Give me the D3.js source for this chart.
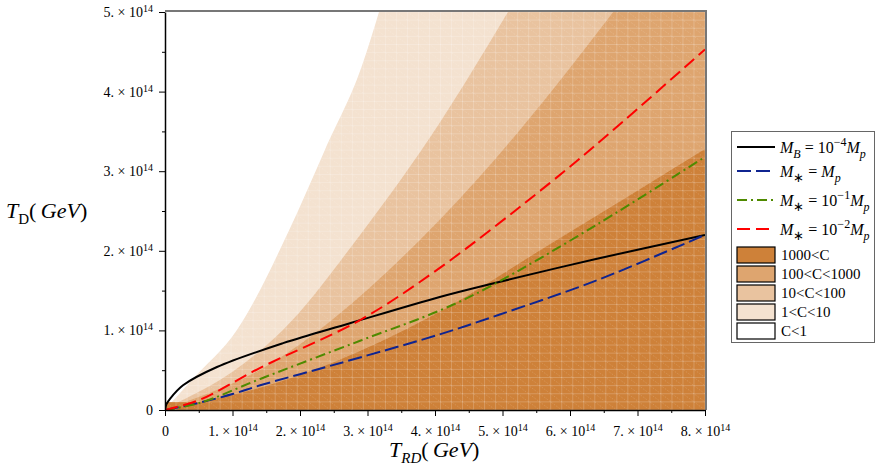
<!DOCTYPE html>
<html>
<head>
<meta charset="utf-8">
<script src="https://cdn.jsdelivr.net/npm/d3@7"></script>
<style>
  body { margin: 0; background: #fff; }
  svg { font-family: "Liberation Serif", "Times New Roman", serif; }
</style>
</head>
<body>
<svg id="chart" width="876" height="466"></svg>
<script>
// axis ticks, in units of 1e14 GeV
var xTicks = [0, 1, 2, 3, 4, 5, 6, 7, 8];
var yTicks = [0, 1, 2, 3, 4, 5];
var xMinor = [0.5, 1.5, 2.5, 3.5, 4.5, 5.5, 6.5, 7.5];
var yMinor = [0.5, 1.5, 2.5, 3.5, 4.5];

// region boundaries: [T_RD, T_D] (1e14 GeV)
var boundC1    = [[0.1, 0.1], [0.40, 0.38], [1.07, 1.01], [1.84, 2.26], [2.37, 3.27], [2.92, 4.33], [3.17, 5.0]];
var boundC10   = [[0.2, 0.1], [1.0, 0.48], [1.74, 1.0], [2.89, 2.2], [4.07, 3.61], [5.08, 5.0]];
var boundC100  = [[0.3, 0.1], [1.5, 0.55], [2.5, 1.15], [3.78, 2.14], [4.07, 2.39], [5.26, 3.52], [6.64, 5.0]];
var boundC1000 = [[0.5, 0.1], [1.5, 0.3], [2.5, 0.6], [3.93, 1.17], [5.66, 2.06], [8.0, 3.28]];
var stripTop = 0.1;   // dark strip along the bottom

// curves
var lineMB = [[0, 0], [0.02, 0.07], [0.074, 0.14], [0.267, 0.31], [0.77, 0.54], [1.75, 0.84], [2.74, 1.09], [4.07, 1.42], [4.81, 1.58], [6.4, 1.9], [8.0, 2.2]];
var lineMp = [[0, 0], [0.5, 0.09], [1.0, 0.2], [1.41, 0.31], [2.0, 0.45], [2.89, 0.66], [4.07, 0.95], [4.96, 1.2], [6.4, 1.63], [8.0, 2.2]];
var lineM1 = [[0, 0], [0.52, 0.09], [1.41, 0.39], [2.89, 0.87], [4.07, 1.25], [4.81, 1.55], [6.4, 2.33], [8.0, 3.18]];
var lineM2 = [[0, 0], [0.52, 0.13], [1.41, 0.53], [2.89, 1.13], [4.03, 1.76], [5.70, 2.85], [6.59, 3.48], [8.0, 4.53]];

var regionColors = ["#f4e2d0", "#e9c39f", "#dea56f", "#ce8139"];
var regionLabels = ["1000<C", "100<C<1000", "10<C<100", "1<C<10", "C<1"];
var legendFill = ["#ce8139", "#dea56f", "#e9c39f", "#f4e2d0", "#ffffff"];

var svg = d3.select("#chart");
var x = d3.scaleLinear().domain([0, 8]).range([165, 705]);
var y = d3.scaleLinear().domain([0, 5]).range([410, 12]);

svg.append("clipPath").attr("id", "plotclip")
  .append("rect").attr("x", x(0)).attr("y", y(5)).attr("width", x(8) - x(0)).attr("height", y(0) - y(5));

var plot = svg.append("g").attr("clip-path", "url(#plotclip)");

var curve = d3.line().x(function(d){ return x(d[0]); }).y(function(d){ return y(d[1]); }).curve(d3.curveMonotoneX);

function region(b){
    var last = b[b.length - 1];
    var p = curve(b);
    if (last[1] >= 5) p += "L" + x(8) + "," + y(5);
    p += "L" + x(8) + "," + y(0) + "L" + x(0) + "," + y(0) + "L" + x(b[0][0]) + "," + y(0) + "Z";
    return p;
}

[boundC1, boundC10, boundC100, boundC1000].forEach(function(b, i){
    plot.append("path").attr("d", region(b)).attr("fill", regionColors[i]);
});
plot.append("rect")
    .attr("x", x(0)).attr("y", y(stripTop))
    .attr("width", x(8) - x(0)).attr("height", y(0) - y(stripTop))
    .attr("fill", regionColors[3]);

// mesh lines of the filled area
var mesh = plot.append("g");
var nCell = 49;
for (var i = 0; i <= nCell; i++) {
    var xv = x(8 * i / nCell), yv = y(5 * i / nCell);
    mesh.append("line").attr("x1", xv).attr("x2", xv).attr("y1", y(0)).attr("y2", y(5))
        .attr("stroke", "#fff").attr("stroke-opacity", 0.2).attr("stroke-width", 1);
    mesh.append("line").attr("x1", x(0)).attr("x2", x(8)).attr("y1", yv).attr("y2", yv)
        .attr("stroke", "#fff").attr("stroke-opacity", 0.2).attr("stroke-width", 1);
}
for (var k = -nCell; k <= nCell; k++) {
    // diagonals from top-left to bottom-right of each cell
    var a0 = Math.max(0, k), a1 = Math.min(nCell, nCell + k);
    mesh.append("line")
        .attr("x1", x(8 * a0 / nCell)).attr("y1", y(5 * (nCell - (a0 - k)) / nCell))
        .attr("x2", x(8 * a1 / nCell)).attr("y2", y(5 * (nCell - (a1 - k)) / nCell))
        .attr("stroke", "#fff").attr("stroke-opacity", 0.18).attr("stroke-width", 0.8)
        .attr("stroke-dasharray", "1.5,1.5");
}

// curves
var lines = [
  {data: lineMB, color: "#000000", dash: null, w: 2},
  {data: lineMp, color: "#0f2490", dash: "14,5", w: 2},
  {data: lineM1, color: "#4f8a00", dash: "10,4,2,4", w: 2},
  {data: lineM2, color: "#ff0000", dash: "13,6", w: 2}
];
var smooth = d3.line().x(function(d){ return x(d[0]); }).y(function(d){ return y(d[1]); }).curve(d3.curveCatmullRom.alpha(0.5));
lines.forEach(function(l){
    plot.append("path").attr("d", smooth(l.data)).attr("fill", "none")
        .attr("stroke", l.color).attr("stroke-width", l.w)
        .attr("stroke-dasharray", l.dash);
});

// frame top/right
svg.append("path")
  .attr("d", "M" + x(0) + "," + (y(5) - 1) + "H" + (x(8) + 1) + "V" + y(0))
  .attr("fill", "none").attr("stroke", "#777").attr("stroke-width", 2);

// axes
function sci(sel){
    sel.selectAll(".tick text").each(function(d){
        var t = d3.select(this);
        t.text(null);
        if (d === 0) { t.text("0"); return; }
        t.append("tspan").text(d + ". \u00d7 10");
        t.append("tspan").text("14").attr("font-size", 10).attr("dy", -5);
    });
}
var gx = svg.append("g").attr("transform", "translate(0," + y(0) + ")")
    .call(d3.axisBottom(x).tickValues(xTicks).tickSize(6).tickSizeOuter(0).tickPadding(10));
gx.call(sci);
svg.append("g").attr("transform", "translate(0," + y(0) + ")")
    .call(d3.axisBottom(x).tickValues(xMinor).tickSize(3).tickFormat(""))
    .select(".domain").remove();

var gy = svg.append("g").attr("transform", "translate(" + x(0) + ",0)")
    .call(d3.axisLeft(y).tickValues(yTicks).tickSize(6).tickSizeOuter(0).tickPadding(6));
gy.call(sci);
svg.selectAll(".tick text").attr("font-family", "Liberation Serif").attr("font-size", 14).attr("fill", "#000");
svg.append("g").attr("transform", "translate(" + x(0) + ",0)")
    .call(d3.axisLeft(y).tickValues(yMinor).tickSize(3).tickFormat(""))
    .select(".domain").remove();

svg.selectAll(".domain").attr("stroke", "#000").attr("stroke-width", 1.5);
svg.selectAll(".tick line").attr("stroke", "#000");

// axis titles
var xt = svg.append("text").attr("x", 389).attr("y", 457).attr("font-size", 22);
xt.append("tspan").text("T").attr("font-style", "italic");
xt.append("tspan").text("RD").attr("font-style", "italic").attr("font-size", 15).attr("dy", 6);
xt.append("tspan").text("(").attr("dy", -6);
xt.append("tspan").text("\u2009GeV").attr("font-style", "italic");
xt.append("tspan").text(")");

var yt = svg.append("text").attr("x", 6).attr("y", 218).attr("font-size", 22);
yt.append("tspan").text("T").attr("font-style", "italic");
yt.append("tspan").text("D").attr("font-size", 15).attr("dy", 6);
yt.append("tspan").text("(").attr("dy", -6);
yt.append("tspan").text("\u2009GeV").attr("font-style", "italic");
yt.append("tspan").text(")");

// legend
var lg = svg.append("g");
lg.append("rect").attr("x", 731.5).attr("y", 131.5).attr("width", 143).attr("height", 211)
  .attr("fill", "#fff").attr("stroke", "#666").attr("stroke-width", 1);

var legendLines = [
  {sub: "B", exp: "\u22124"},
  {sub: "*", exp: null},
  {sub: "*", exp: "\u22121"},
  {sub: "*", exp: "\u22122"}
];
var rowY = [147, 171, 200, 229];
legendLines.forEach(function(e, i){
    var l = lines[i];
    lg.append("line").attr("x1", 737).attr("x2", 775).attr("y1", rowY[i]).attr("y2", rowY[i])
      .attr("stroke", l.color).attr("stroke-width", 2).attr("stroke-dasharray", l.dash);
    var t = lg.append("text").attr("x", 780).attr("y", rowY[i] + 6).attr("font-size", 16);
    t.append("tspan").text("M").attr("font-style", "italic");
    if (e.sub === "*") t.append("tspan").text("\u2217").attr("font-size", 13).attr("dy", 5);
    else t.append("tspan").text(e.sub).attr("font-style", "italic").attr("font-size", 12).attr("dy", 5);
    t.append("tspan").text(" = ").attr("dy", -5);
    if (e.exp) {
        t.append("tspan").text("10");
        t.append("tspan").text(e.exp).attr("font-size", 12).attr("dy", -7);
        t.append("tspan").text("M").attr("font-style", "italic").attr("dy", 7);
    } else {
        t.append("tspan").text("M").attr("font-style", "italic");
    }
    t.append("tspan").text("p").attr("font-style", "italic").attr("font-size", 12).attr("dy", 5);
});

var swY = [247, 266, 285, 304, 323];
regionLabels.forEach(function(s, i){
    lg.append("rect").attr("x", 737).attr("y", swY[i]).attr("width", 38).attr("height", 16)
      .attr("fill", legendFill[i]).attr("stroke", "#000").attr("stroke-width", 1.2);
    lg.append("text").attr("x", 781).attr("y", swY[i] + 13).attr("font-size", 15).text(s);
});
</script>
</body>
</html>
